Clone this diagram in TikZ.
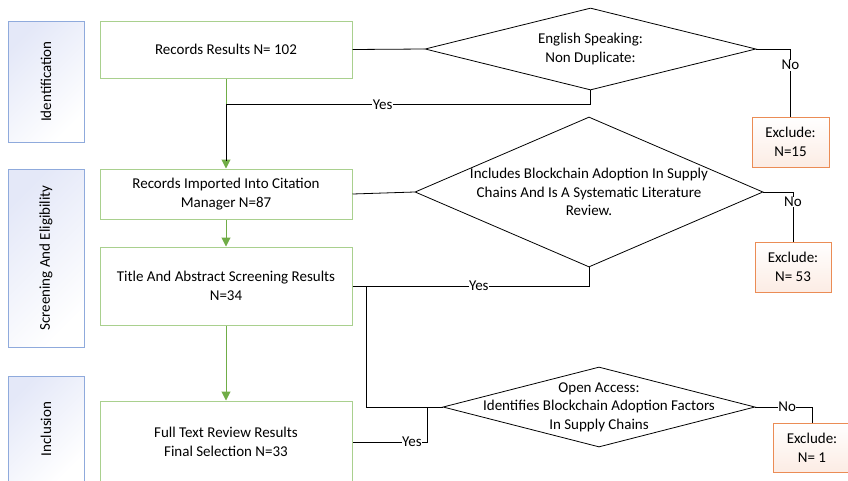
\documentclass[tikz,border=0pt]{standalone}
\usepackage{fontspec}
\setmainfont{Carlito}
\usepackage{tikz}
\usetikzlibrary{shapes.geometric, arrows.meta, positioning, calc}

\begin{document}
\begin{tikzpicture}[
    x=1pt, y=-1pt,
    font=\fontsize{15}{18.6}\selectfont,
    stagebox/.style={draw=stageblue, line width=1pt, left color=stagefill, right color=white, shading angle=45, inner sep=0pt},
    resultbox/.style={draw=boxgreen, line width=1pt, fill=white, align=center, minimum width=252pt, inner sep=0pt},
    decision/.style={diamond, draw, line width=0.8pt, inner sep=0pt},
    excludebox/.style={draw=exorange, line width=1pt, top color=white, bottom color=exfill, align=center, inner sep=0pt},
    link/.style={draw, line width=0.8pt},
    flowarrow/.style={draw=arrowgreen, line width=1pt, -{Triangle[length=9pt,width=9pt]}},
    lbl/.style={fill=white, inner sep=0.5pt}
]
% Define colors
\definecolor{stageblue}{RGB}{143,170,220}
\definecolor{stagefill}{RGB}{228,232,248}
\definecolor{boxgreen}{RGB}{169,208,142}
\definecolor{arrowgreen}{RGB}{112,173,71}
\definecolor{exorange}{RGB}{235,140,85}
\definecolor{exfill}{RGB}{252,236,228}

\useasboundingbox (0,0) rectangle (848,480);

% Stage boxes
\node[stagebox, minimum width=76pt, minimum height=121pt] (ident) at (46,81.5) {};
\node[rotate=90] at (ident) {Identification};
\node[stagebox, minimum width=76pt, minimum height=178pt] (screen) at (46,258) {};
\node[rotate=90] at (screen) {Screening And Eligibility};
\node[stagebox, minimum width=76pt, minimum height=106pt] (incl) at (46,429) {};
\node[rotate=90] at (incl) {Inclusion};

% Result boxes
\node[resultbox, minimum height=57pt] (records) at (226,49.5) {Records Results N= 102};
\node[resultbox, minimum height=50pt] (imported) at (226,194) {Records Imported Into Citation\\Manager N=87};
\node[resultbox, minimum height=78pt] (abstract) at (226,286) {Title And Abstract Screening Results\\N=34};
\node[resultbox, minimum height=82pt] (fulltext) at (226,442) {Full Text Review Results\\Final Selection N=33};

% Decisions
\node[decision, minimum width=331pt, minimum height=82pt] (english) at (590.5,49) {};
\node[align=center] at (english) {English Speaking:\\Non Duplicate:};
\node[decision, minimum width=348pt, minimum height=150pt] (chains) at (589,192) {};
\node[align=center] at (chains) {Includes Blockchain Adoption In Supply\\Chains And Is A Systematic Literature\\Review.};
\node[decision, minimum width=312pt, minimum height=80pt] (access) at (599,407) {};
\node[align=center] at (access) {Open Access:\\Identifies Blockchain Adoption Factors\\In Supply Chains};

% Exclude boxes
\node[excludebox, minimum width=77pt, minimum height=50pt] (exA) at (790.5,142) {Exclude:\\N=15};
\node[excludebox, minimum width=76pt, minimum height=50pt] (exB) at (793,267) {Exclude:\\N= 53};
\node[excludebox, minimum width=78pt, minimum height=49pt] (exC) at (812,447.5) {Exclude:\\N= 1};

% Main flow
\draw[flowarrow] (records.south) -- (imported.north);
\draw[flowarrow] (imported.south) -- (abstract.north);
\draw[flowarrow] (abstract.south) -- (fulltext.north);

% Decision links
\draw[link] (records.east) -- (english.west);
\draw[link, shorten >=8pt] (english.south) -- ++(0,14) -| node[lbl, pos=0.285] {Yes} (imported.north);
\draw[link] (english.east) -| node[lbl, pos=0.62] {No} (exA.north);

\draw[link] (imported.east) -- (chains.west);
\draw[link] (chains.south) |- node[lbl, pos=0.733] {Yes} (abstract.east);
\draw[link] (chains.east) -| node[lbl, pos=0.6] {No} (exB.north);

\draw[link] (abstract.east) -- ++(14,0) |- (access.west);
\draw[link] (access.west) -- ++(-15,0) |- node[lbl, pos=0.605] {Yes} (fulltext.east);
\draw[link] (access.east) -| node[lbl, pos=0.28] {No} (exC.north);

\end{tikzpicture}
\end{document}
